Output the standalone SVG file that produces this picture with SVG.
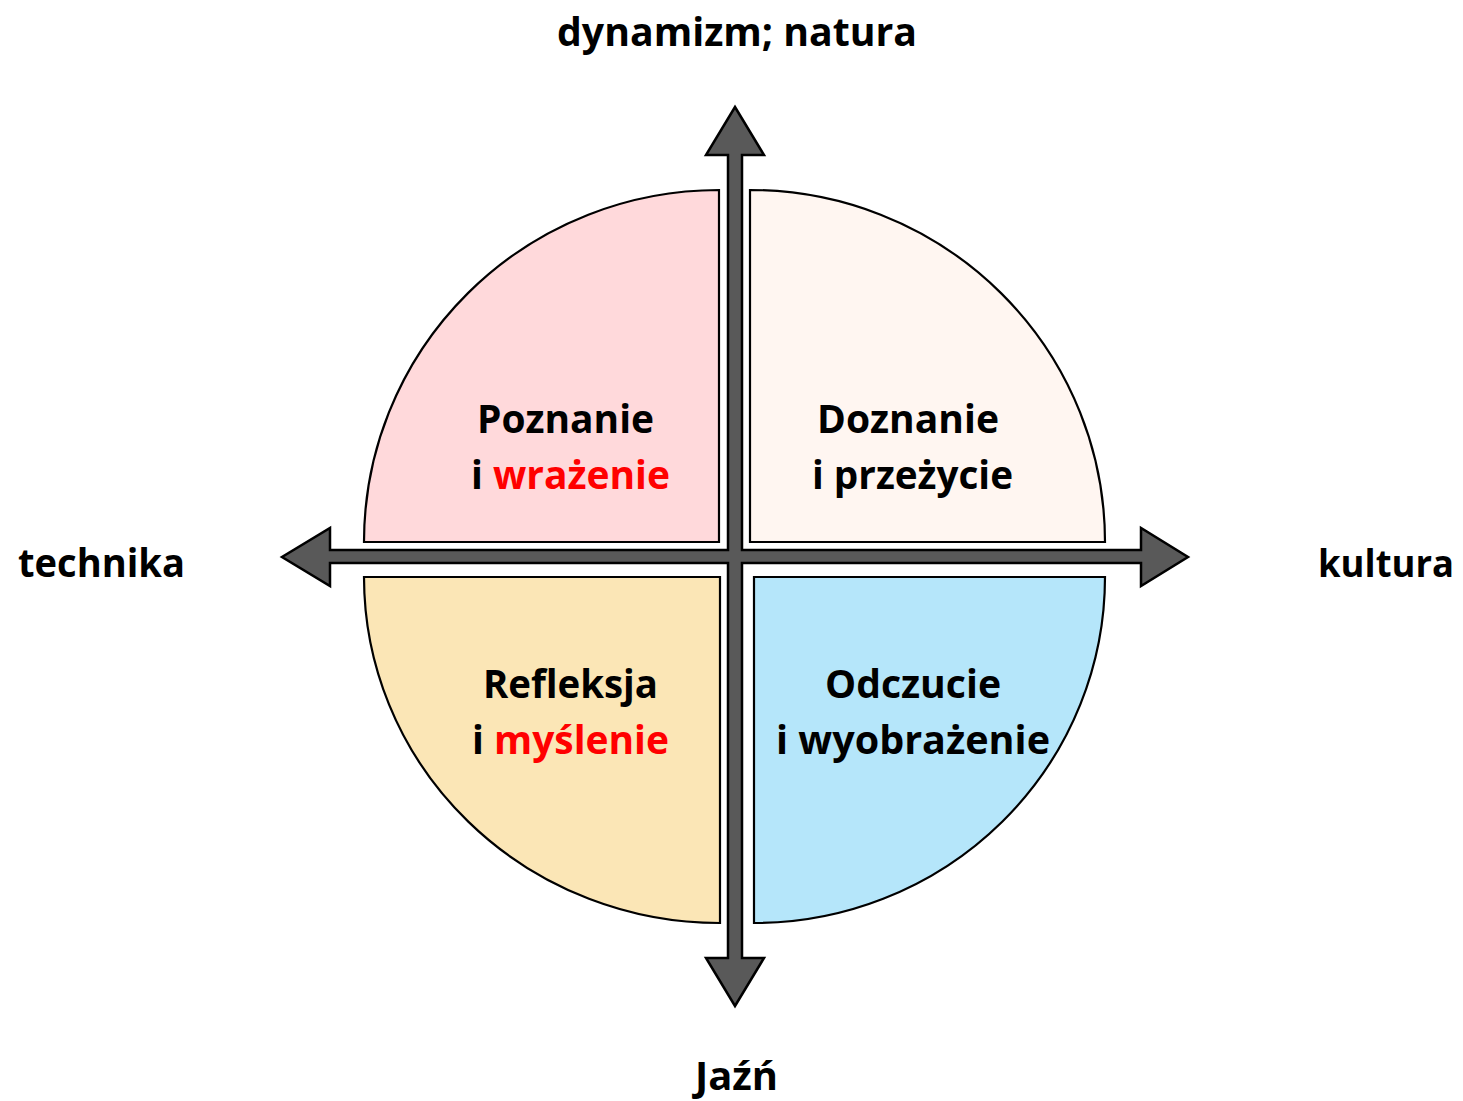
<svg xmlns="http://www.w3.org/2000/svg" width="1463" height="1101" viewBox="0 0 1463 1101">
<style>
.q{stroke:#000;stroke-width:2.2}
.t{font-family:"Open Sans","Noto Sans","Liberation Sans",sans-serif;font-weight:bold;font-size:40px;fill:#000;text-anchor:middle}
.r{fill:#ff0000}
</style>
<rect width="1463" height="1101" fill="#fff"/>
<g id="q-poznanie">
<path class="q" fill="#FFD9DB" d="M719,542 L719,190 A355,352 0 0 0 364,542 Z"/>
<text class="t" x="565.5" y="433" textLength="177" lengthAdjust="spacingAndGlyphs">Poznanie</text>
<text class="t" x="570.5" y="489" textLength="199" lengthAdjust="spacingAndGlyphs">i <tspan class="r">wrażenie</tspan></text>
</g>
<g id="q-doznanie">
<path class="q" fill="#FFF6F1" d="M750,542 L750,190 A355,352 0 0 1 1105,542 Z"/>
<text class="t" x="908" y="433" textLength="182" lengthAdjust="spacingAndGlyphs">Doznanie</text>
<text class="t" x="912.5" y="489" textLength="201" lengthAdjust="spacingAndGlyphs">i przeżycie</text>
</g>
<g id="q-refleksja">
<path class="q" fill="#FBE6B6" d="M720,577 L720,923 A356,346 0 0 1 364,577 Z"/>
<text class="t" x="570.5" y="698" textLength="175" lengthAdjust="spacingAndGlyphs">Refleksja</text>
<text class="t" x="570.5" y="754" textLength="197" lengthAdjust="spacingAndGlyphs">i <tspan class="r">myślenie</tspan></text>
</g>
<g id="q-odczucie">
<path class="q" fill="#B5E6FA" d="M754,577 L1105,577 A351,346 0 0 1 754,923 Z"/>
<text class="t" x="913" y="698" textLength="176" lengthAdjust="spacingAndGlyphs">Odczucie</text>
<text class="t" x="913" y="754" textLength="274" lengthAdjust="spacingAndGlyphs">i wyobrażenie</text>
</g>
<g id="connectors">
<path fill="#595959" stroke="#000" stroke-width="2.5" stroke-linejoin="miter" d="M735,107 L764,155 L742,155 L742,550 L1141,550 L1141,528 L1188,557 L1141,586 L1141,563 L742,563 L742,958 L764,958 L735,1006 L706,958 L728,958 L728,563 L330,563 L330,586 L282,557 L330,528 L330,550 L728,550 L728,155 L706,155 Z"/>
</g>
<g id="axis-labels">
<text class="t" x="737" y="46" textLength="360" lengthAdjust="spacingAndGlyphs">dynamizm; natura</text>
<text class="t" x="736.5" y="1090" textLength="83" lengthAdjust="spacingAndGlyphs">Jaźń</text>
<text class="t" x="101.5" y="577" textLength="167" lengthAdjust="spacingAndGlyphs">technika</text>
<text class="t" x="1386" y="577" style="font-size:38px" textLength="136" lengthAdjust="spacingAndGlyphs">kultura</text>
</g>
</svg>
